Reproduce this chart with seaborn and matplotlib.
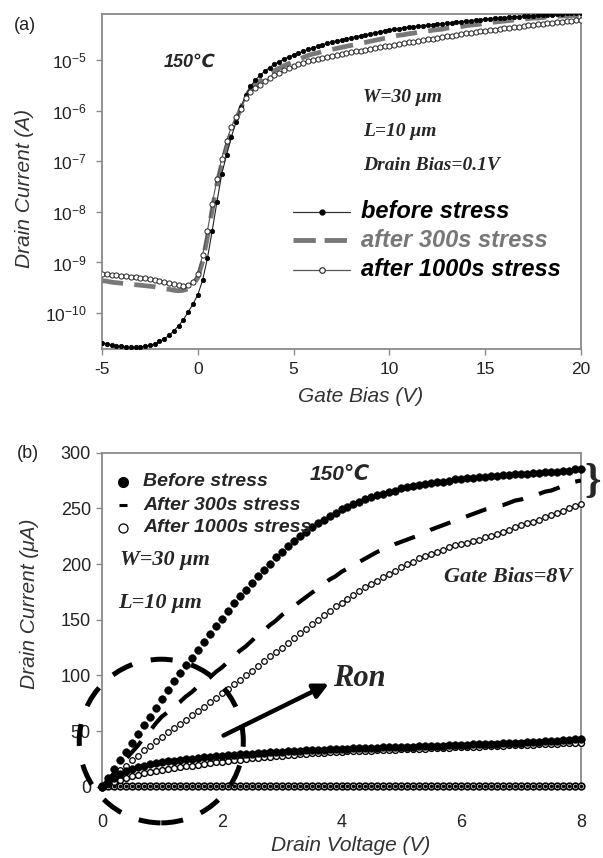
import numpy as np
import matplotlib
matplotlib.use("Agg")
import matplotlib.pyplot as plt
import seaborn as sns
from matplotlib.patches import Ellipse
from matplotlib.lines import Line2D
from matplotlib.ticker import FixedLocator, NullLocator

# ---------------- data: panel (a) transfer curves (log10 of drain current, A) ----------------
gate_bias = np.arange(-5, 20.001, 0.25)
before_log10 = [
    -10.59, -10.61, -10.63, -10.65, -10.66, -10.67, -10.68, -10.68, -10.67, -10.66,
    -10.64, -10.61, -10.56, -10.51, -10.44, -10.35, -10.25, -10.13, -9.98, -9.82,
    -9.64, -9.35, -8.92, -8.38, -7.80, -7.25, -6.88, -6.52, -6.22, -5.92,
    -5.70, -5.52, -5.40, -5.30, -5.22, -5.15, -5.08, -5.03, -4.98, -4.94,
    -4.90, -4.86, -4.83, -4.79, -4.76, -4.73, -4.70, -4.67, -4.64, -4.62,
    -4.60, -4.58, -4.56, -4.54, -4.52, -4.50, -4.48, -4.46, -4.44, -4.42,
    -4.40, -4.39, -4.38, -4.36, -4.35, -4.34, -4.33, -4.32, -4.31, -4.30,
    -4.29, -4.28, -4.27, -4.26, -4.25, -4.24, -4.23, -4.22, -4.21, -4.20,
    -4.19, -4.18, -4.17, -4.17, -4.16, -4.15, -4.14, -4.14, -4.13, -4.12,
    -4.12, -4.11, -4.11, -4.10, -4.10, -4.09, -4.09, -4.08, -4.08, -4.07,
    -4.07]
after300_log10 = [
    -9.36, -9.37, -9.39, -9.40, -9.41, -9.42, -9.43, -9.44, -9.45, -9.46,
    -9.47, -9.48, -9.50, -9.52, -9.53, -9.55, -9.56, -9.55, -9.52, -9.44,
    -9.30, -8.98, -8.50, -7.96, -7.45, -7.05, -6.72, -6.44, -6.18, -5.95,
    -5.72, -5.58, -5.48, -5.41, -5.34, -5.27, -5.21, -5.16, -5.11, -5.07,
    -5.03, -4.99, -4.95, -4.91, -4.88, -4.86, -4.83, -4.81, -4.79, -4.77,
    -4.75, -4.73, -4.71, -4.69, -4.67, -4.65, -4.63, -4.61, -4.59, -4.57,
    -4.55, -4.53, -4.51, -4.50, -4.48, -4.47, -4.45, -4.44, -4.43, -4.41,
    -4.40, -4.39, -4.37, -4.36, -4.35, -4.34, -4.32, -4.31, -4.30, -4.29,
    -4.27, -4.26, -4.25, -4.24, -4.23, -4.22, -4.21, -4.20, -4.19, -4.18,
    -4.17, -4.17, -4.16, -4.15, -4.14, -4.14, -4.13, -4.13, -4.12, -4.12,
    -4.11]
after1000_log10 = [
    -9.22, -9.23, -9.24, -9.25, -9.26, -9.27, -9.28, -9.29, -9.30, -9.31,
    -9.33, -9.34, -9.36, -9.38, -9.40, -9.42, -9.44, -9.46, -9.45, -9.38,
    -9.22, -8.86, -8.38, -7.85, -7.36, -6.95, -6.60, -6.32, -6.12, -5.96,
    -5.75, -5.64, -5.56, -5.49, -5.42, -5.36, -5.30, -5.25, -5.20, -5.16,
    -5.12, -5.08, -5.05, -5.02, -4.99, -4.97, -4.95, -4.93, -4.92, -4.90,
    -4.88, -4.86, -4.85, -4.83, -4.82, -4.80, -4.78, -4.77, -4.75, -4.73,
    -4.72, -4.70, -4.68, -4.67, -4.65, -4.64, -4.62, -4.61, -4.59, -4.58,
    -4.56, -4.55, -4.53, -4.52, -4.51, -4.49, -4.47, -4.46, -4.45, -4.43,
    -4.42, -4.41, -4.40, -4.38, -4.37, -4.36, -4.35, -4.34, -4.32, -4.31,
    -4.30, -4.29, -4.28, -4.27, -4.26, -4.25, -4.24, -4.23, -4.22, -4.21,
    -4.20]

# ---------------- data: panel (b) output curves (drain current, uA) ----------------
drain_v = np.round(np.arange(0, 8.001, 0.1), 1)
before_vg8 = [0, 8, 16, 24, 31, 39, 47, 55, 63, 71,
              79, 87, 95, 102, 109, 116, 123, 130, 137, 144,
              151, 158, 165, 171, 177, 183, 189, 195, 200, 206,
              211, 216, 221, 225, 229, 233, 237, 240, 243, 246,
              249, 251, 254, 256, 258, 260, 262, 263, 265, 266,
              268, 269, 270, 271, 272, 273, 274, 274, 275, 276,
              276, 277, 277, 278, 278, 279, 279, 280, 280, 281,
              281, 281, 282, 282, 283, 283, 283, 284, 284, 285, 285]
after300_vg8 = [0, 6, 12, 18, 25, 31, 37, 44, 50, 57,
                63, 67, 72, 76, 81, 85, 90, 94, 98, 103,
                107, 112, 117, 122, 126, 131, 136, 140, 145, 149,
                154, 158, 162, 166, 170, 174, 178, 182, 186, 189,
                193, 196, 199, 202, 205, 208, 211, 213, 215, 218,
                220, 222, 224, 226, 228, 231, 233, 235, 237, 239,
                241, 243, 245, 247, 249, 250, 252, 253, 255, 257,
                258, 260, 261, 263, 265, 266, 268, 270, 272, 274, 275]
after1000_vg8 = [0, 5, 10, 15, 19, 24, 28, 33, 37, 41,
                 45, 49, 53, 56, 60, 64, 68, 72, 76, 80,
                 84, 88, 92, 96, 100, 104, 108, 113, 117, 121,
                 125, 129, 134, 138, 142, 146, 150, 154, 158, 162,
                 165, 169, 172, 176, 179, 182, 185, 188, 191, 194,
                 197, 200, 202, 205, 207, 209, 211, 213, 215, 217,
                 218, 219, 221, 222, 224, 225, 227, 229, 231, 233,
                 235, 237, 238, 240, 242, 244, 246, 248, 250, 252, 254]
before_low = [0, 4, 8, 11, 14, 16, 17.5, 19, 20, 21,
              22, 22.7, 23.3, 24, 24.6, 25.2, 25.8, 26.3, 26.8, 27.3,
              27.8, 28.2, 28.6, 29, 29.4, 29.8, 30.2, 30.5, 30.9, 31.2,
              31.5, 31.8, 32.1, 32.4, 32.7, 33, 33.2, 33.4, 33.6, 33.8,
              34, 34.2, 34.4, 34.6, 34.8, 35, 35.1, 35.3, 35.4, 35.6,
              35.8, 36, 36.1, 36.3, 36.5, 36.7, 36.8, 37, 37.2, 37.4,
              37.6, 37.8, 38, 38.2, 38.4, 38.6, 38.8, 39, 39.2, 39.4,
              39.6, 39.8, 40, 40.3, 40.6, 40.9, 41.2, 41.6, 42, 42.4, 42.8]
after300_low = [0, 3.5, 7.5, 10.5, 13.5, 15.5, 17, 18.5, 19.5, 20.5,
                21.5, 22.2, 22.9, 23.6, 24.2, 24.8, 25.4, 25.9, 26.4, 26.9,
                27.4, 27.8, 28.2, 28.6, 29, 29.4, 29.8, 30.1, 30.5, 30.8,
                31.1, 31.4, 31.7, 32, 32.3, 32.6, 32.8, 33, 33.2, 33.4,
                33.6, 33.8, 34, 34.2, 34.4, 34.6, 34.8, 35, 35.2, 35.4,
                35.6, 35.8, 36, 36.2, 36.4, 36.6, 36.8, 37, 37.2, 37.4,
                37.6, 37.8, 38, 38.2, 38.4, 38.6, 38.8, 39, 39.2, 39.4,
                39.6, 39.8, 40, 40.3, 40.6, 40.9, 41.2, 41.6, 42, 42.4, 42.8]
after1000_low = [0, 2, 4, 6, 8, 9.5, 10.8, 12, 13, 14,
                 15, 15.8, 16.6, 17.4, 18.2, 19, 19.7, 20.4, 21.1, 21.8,
                 22.5, 23.1, 23.7, 24.3, 24.9, 25.5, 26, 26.5, 27, 27.5,
                 28, 28.4, 28.8, 29.2, 29.6, 30, 30.3, 30.6, 30.9, 31.2,
                 31.5, 31.7, 31.9, 32.1, 32.3, 32.5, 32.7, 32.9, 33.1, 33.3,
                 33.5, 33.7, 33.9, 34.1, 34.3, 34.5, 34.7, 34.9, 35.1, 35.3,
                 35.5, 35.7, 35.9, 36.1, 36.3, 36.5, 36.7, 36.9, 37.1, 37.3,
                 37.5, 37.7, 37.9, 38.1, 38.3, 38.5, 38.7, 38.9, 39.1, 39.3, 39.5]
off_state = [0.6, 0.6, 0.6, 0.6, 0.6, 0.6, 0.6, 0.6, 0.6,
             0.6, 0.6, 0.6, 0.6, 0.6, 0.6, 0.6, 0.6, 0.6,
             0.6, 0.6, 0.6, 0.6, 0.6, 0.6, 0.6, 0.6, 0.6,
             0.6, 0.6, 0.6, 0.6, 0.6, 0.6, 0.6, 0.6, 0.6,
             0.6, 0.6, 0.6, 0.6, 0.6, 0.6, 0.6, 0.6, 0.6,
             0.6, 0.6, 0.6, 0.6, 0.6, 0.6, 0.6, 0.6, 0.6,
             0.6, 0.6, 0.6, 0.6, 0.6, 0.6, 0.6, 0.6, 0.6,
             0.6, 0.6, 0.6, 0.6, 0.6, 0.6, 0.6, 0.6, 0.6,
             0.6, 0.6, 0.6, 0.6, 0.6, 0.6, 0.6, 0.6, 0.6]

legend_a = ["before stress", "after 300s stress", "after 1000s stress"]
legend_b = ["Before stress", "After 300s stress", "After 1000s stress"]
gate_ticks = [-5, 0, 5, 10, 15, 20]
log_ticks = [1e-10, 1e-9, 1e-8, 1e-7, 1e-6, 1e-5]
vd_ticks = [0, 2, 4, 6, 8]
id_ticks = [0, 50, 100, 150, 200, 250, 300]

# ---------------- style ----------------
sns.set_style("white")
plt.rcParams['font.family'] = ['Liberation Sans', 'DejaVu Sans']
plt.rcParams['axes.unicode_minus'] = False
plt.rcParams['mathtext.default'] = 'regular'

W, H = 603, 858
fig = plt.figure(figsize=(W / 100, H / 100), dpi=100)


def P(x, y):
    return (x / W, 1 - y / H)


SERIF = ['Liberation Serif', 'DejaVu Serif']
SANS = ['Liberation Sans', 'DejaVu Sans']
SPINE = '#8a8a8a'

ax1 = fig.add_axes([102 / W, 1 - 349 / H, 479 / W, 335 / H])
ax2 = fig.add_axes([102 / W, 1 - 786.7 / H, 479 / W, 334 / H])

# ---------------- panel (a) ----------------
sns.lineplot(x=gate_bias, y=10.0 ** np.array(after300_log10), ax=ax1, color='#787878',
             linewidth=3.4, linestyle=(0, (4.5, 2.4)), zorder=2)
sns.lineplot(x=gate_bias, y=10.0 ** np.array(before_log10), ax=ax1, color='#222222',
             linewidth=0.8, marker='o', markersize=3.2, markerfacecolor='black',
             markeredgecolor='black', markeredgewidth=0.5, zorder=3)
sns.lineplot(x=gate_bias, y=10.0 ** np.array(after1000_log10), ax=ax1, color='#555555',
             linewidth=0.8, marker='o', markersize=3.7, markerfacecolor='white',
             markeredgecolor='#222222', markeredgewidth=0.7, zorder=4)
ax1.set_yscale('log')
ax1.set_xlim(-5, 20)
ax1.set_ylim(10 ** -10.71, 10 ** -4.09)
ax1.yaxis.set_major_locator(FixedLocator(log_ticks))
ax1.yaxis.set_minor_locator(NullLocator())
ax1.set_xticks(gate_ticks)
ax1.set_xticklabels([str(t) for t in gate_ticks])
ax1.tick_params(axis='both', left=True, bottom=True, direction='out', length=4,
                width=1, color=SPINE, labelsize=12.5, labelcolor='#222222')
ax1.tick_params(axis='y', pad=7)
ax1.tick_params(axis='x', pad=5)
for s in ax1.spines.values():
    s.set_color(SPINE)
    s.set_linewidth(1.3)
ax1.set_xlabel('Gate Bias (V)', fontsize=15, style='italic', color='#333333')
ax1.set_ylabel('Drain Current (A)', fontsize=15, style='italic', color='#333333')
ax1.xaxis.label.set_va('center')
ax1.yaxis.label.set_va('center')
ax1.xaxis.set_label_coords(0.539, -0.143)
ax1.yaxis.set_label_coords(-0.161, 0.48)

fig.text(*P(14, 25), '(a)', fontsize=13, va='center', ha='left', color='#222222')
fig.text(*P(190, 62), '150℃', fontsize=13, fontweight='bold', style='italic',
         va='center', ha='center', family=SANS)
fig.text(*P(363, 97), 'W=30 μm', fontsize=14, fontweight='bold', style='italic',
         va='center', ha='left', family=SERIF)
fig.text(*P(363, 131), 'L=10 μm', fontsize=14, fontweight='bold', style='italic',
         va='center', ha='left', family=SERIF)
fig.text(*P(363, 165), 'Drain Bias=0.1V', fontsize=14, fontweight='bold', style='italic',
         va='center', ha='left', family=SERIF)

# legend (a)
ly = [212, 240, 270]
x0, x1, xm = 293, 350, 321.5
fig.add_artist(Line2D([x0 / W, x1 / W], [P(0, ly[0])[1]] * 2, transform=fig.transFigure,
                      color='#333333', lw=0.9))
fig.add_artist(Line2D([xm / W], [P(0, ly[0])[1]], transform=fig.transFigure, marker='o',
                      ms=3.5, mfc='black', mec='black', lw=0))
fig.add_artist(Line2D([x0 / W, x1 / W], [P(0, ly[1])[1]] * 2, transform=fig.transFigure,
                      color='#787878', lw=3.5, linestyle=(0, (4.6, 1.8))))
fig.add_artist(Line2D([x0 / W, x1 / W], [P(0, ly[2])[1]] * 2, transform=fig.transFigure,
                      color='#555555', lw=0.9))
fig.add_artist(Line2D([xm / W], [P(0, ly[2])[1]], transform=fig.transFigure, marker='o',
                      ms=4.0, mfc='white', mec='#222222', mew=0.8, lw=0))
for yy, lab, col in zip(ly, legend_a, ['black', '#777777', 'black']):
    fig.text(*P(361, yy), lab, fontsize=17, fontweight='bold', style='italic',
             color=col, va='center', ha='left', family=SANS)

# ---------------- panel (b) ----------------
def markers(ax, x, y, face, size, edge='black', mew=0.8, z=3):
    sns.lineplot(x=x, y=y, ax=ax, linestyle='none', marker='o', markersize=size,
                 markerfacecolor=face, markeredgecolor=edge, markeredgewidth=mew,
                 color=edge, clip_on=False, zorder=z)


markers(ax2, drain_v, off_state, 'white', 4.8, mew=1.2, z=3)
markers(ax2, drain_v, off_state, 'black', 2.4, mew=0.3, z=3.5)
markers(ax2, drain_v, after1000_vg8, 'white', 4.0, mew=0.9, z=3)
markers(ax2, drain_v, after1000_low, 'white', 4.2, mew=1.0, z=3)
sns.lineplot(x=drain_v, y=after300_vg8, ax=ax2, color='black', linewidth=3.0,
             linestyle=(0, (5.2, 4.0)), zorder=4)
sns.lineplot(x=drain_v, y=after300_low, ax=ax2, color='black', linewidth=3.0,
             linestyle=(0, (5.2, 4.0)), zorder=4)
markers(ax2, drain_v, before_vg8, 'black', 5.5, mew=0.4, z=5)
markers(ax2, drain_v, before_low, 'black', 5.5, mew=0.4, z=5)

ax2.set_xlim(0, 8)
ax2.set_ylim(0, 300)
ax2.set_xticks(vd_ticks)
ax2.set_xticklabels([str(t) for t in vd_ticks])
ax2.set_yticks(id_ticks)
ax2.set_yticklabels([str(t) for t in id_ticks])
ax2.tick_params(axis='y', left=True, direction='out', length=4, width=1, color=SPINE,
                labelsize=13, labelcolor='#222222', pad=4)
ax2.tick_params(axis='x', bottom=False, length=0, labelsize=13, labelcolor='#222222', pad=20)
for s in ax2.spines.values():
    s.set_color(SPINE)
    s.set_linewidth(1.3)
ax2.spines['bottom'].set_visible(False)
ax2.set_xlabel('Drain Voltage (V)', fontsize=15, style='italic', color='#333333')
ax2.set_ylabel('Drain Current (μA)', fontsize=15, style='italic', color='#333333')
ax2.xaxis.label.set_va('center')
ax2.yaxis.label.set_va('center')
ax2.xaxis.set_label_coords(0.52, -0.175)
ax2.yaxis.set_label_coords(-0.152, 0.549)

# dashed ellipse around the linear (Ron) region
ax2.add_patch(Ellipse((0.99, 41), width=2.74, height=147, fill=False, edgecolor='black',
                      linewidth=3.6, linestyle=(0, (4.4, 3.8)), clip_on=False, zorder=6))
ax2.annotate('', xy=(3.79, 92.6), xytext=(2.03, 46),
             arrowprops=dict(arrowstyle='-|>', color='black', lw=3.2, mutation_scale=22,
                             shrinkA=0, shrinkB=0), annotation_clip=False, zorder=7)

fig.text(*P(17, 453), '(b)', fontsize=13, va='center', ha='left', color='#222222')
fig.text(*P(340, 475), '150℃', fontsize=15, fontweight='bold', style='italic',
         va='center', ha='center', family=SANS)
lyb = [482, 505, 528]
fig.add_artist(Line2D([123 / W], [P(0, lyb[0])[1]], transform=fig.transFigure, marker='o',
                      ms=7, mfc='black', mec='black', lw=0))
fig.add_artist(Line2D([119 / W, 127 / W], [P(0, lyb[1])[1]] * 2, transform=fig.transFigure,
                      color='black', lw=2.2, solid_capstyle='butt'))
fig.add_artist(Line2D([123 / W], [P(0, lyb[2])[1]], transform=fig.transFigure, marker='o',
                      ms=6.5, mfc='white', mec='black', mew=0.9, lw=0))
for yy, lab in zip(lyb, legend_b):
    fig.text(*P(143, yy), lab, fontsize=14, fontweight='bold', style='italic',
             va='center', ha='left', family=SANS)
fig.text(*P(120, 560), 'W=30 μm', fontsize=16, fontweight='bold', style='italic',
         va='center', ha='left', family=SERIF)
fig.text(*P(118, 603), 'L=10 μm', fontsize=16, fontweight='bold', style='italic',
         va='center', ha='left', family=SERIF)
fig.text(*P(444, 577), 'Gate Bias=8V', fontsize=16, fontweight='bold', style='italic',
         va='center', ha='left', family=SERIF)
fig.text(*P(333, 678), 'Ron', fontsize=22, fontweight='bold', style='italic',
         va='center', ha='left', family=SERIF)
fig.text(*P(593, 482), '}', fontsize=30, fontweight='bold', va='center', ha='center',
         family=SERIF)

fig.savefig('out.png', dpi=100)
